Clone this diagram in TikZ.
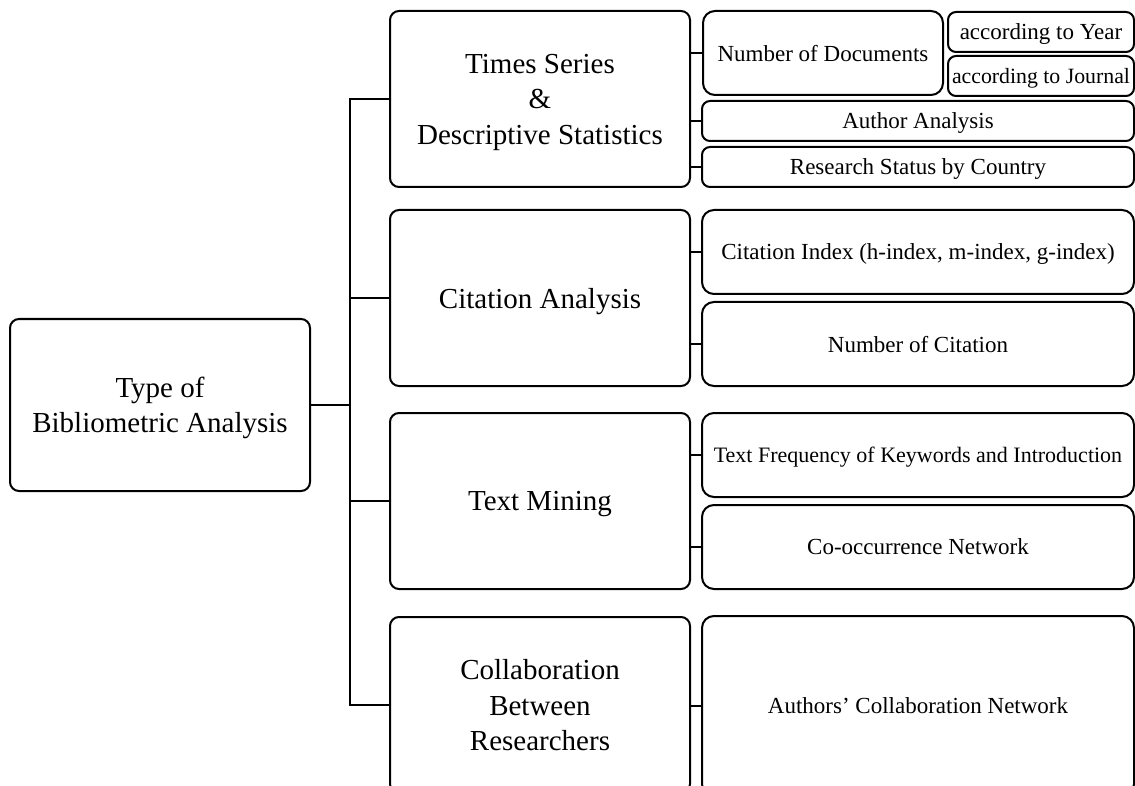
\documentclass[tikz,border=0pt]{standalone}
\usepackage{fontspec}
\setmainfont{Liberation Serif}
\usetikzlibrary{positioning}
\begin{document}
\begin{tikzpicture}[x=1pt, y=-1pt,
  base/.style={draw, line width=2pt, rounded corners=9pt, inner sep=0pt, align=center, text depth=0pt},
  bigbox/.style={base, minimum width=300pt, minimum height=176pt, font=\fontsize{29}{35.5}\selectfont},
  subbox/.style={base, rounded corners=12pt, minimum width=432pt, minimum height=84pt, font=\fontsize{23}{28}\selectfont},
  thinbox/.style={subbox, rounded corners=8pt, minimum height=40pt},
  wire/.style={line width=2pt}]
  \useasboundingbox (0,0) rectangle (1135,786);
  \clip (0,0) rectangle (1135,786);
  \node[bigbox, minimum height=172pt] (root) at (160,405) {Type of\\Bibliometric Analysis};
  \node[bigbox] (ts) at (540,99) {Times Series\\\&\\Descriptive Statistics};
  \node[bigbox] (ca) at (540,298) {Citation Analysis};
  \node[bigbox] (tm) at (540,501) {Text Mining};
  \node[bigbox] (cb) at (540,705) {Collaboration\\Between\\Researchers};
  \node[subbox, minimum width=240pt] (nd) at (823,53) {Number of Documents};
  \node[thinbox, minimum width=186pt] (yr) at (1041,32) {according to Year};
  \node[thinbox, minimum width=186pt, font=\fontsize{21.8}{26}\selectfont] (jr) at (1041,76) {according to Journal};
  \node[thinbox] (au) at (918,121) {Author Analysis};
  \node[thinbox] (rs) at (918,167) {Research Status by Country};
  \node[subbox] (ci) at (918,252) {Citation Index (h-index, m-index, g-index)};
  \node[subbox] (nc) at (918,344) {Number of Citation};
  \node[subbox, font=\fontsize{22}{26}\selectfont] (tf) at (918,455) {Text Frequency of Keywords and Introduction};
  \node[subbox] (cn) at (918,547) {Co-occurrence Network};
  \node[subbox, minimum height=180pt] (ac) at (918,706) {Authors' Collaboration Network};
  \coordinate (trunk) at (350,0);
  \draw[wire] (root.east) -- (root.east -| trunk);
  \draw[wire] (ts.west) -- (ts.west -| trunk) -- (cb.west -| trunk) -- (cb.west);
  \foreach \n in {ca, tm}
    \draw[wire] (\n.west) -- (\n.west -| trunk);
  \foreach \a/\b in {ts/nd, ts/au, ts/rs, ca/ci, ca/nc, tm/tf, tm/cn, cb/ac}
    \draw[wire] (\b.west) -- (\b.west -| \a.east);
\end{tikzpicture}
\end{document}
